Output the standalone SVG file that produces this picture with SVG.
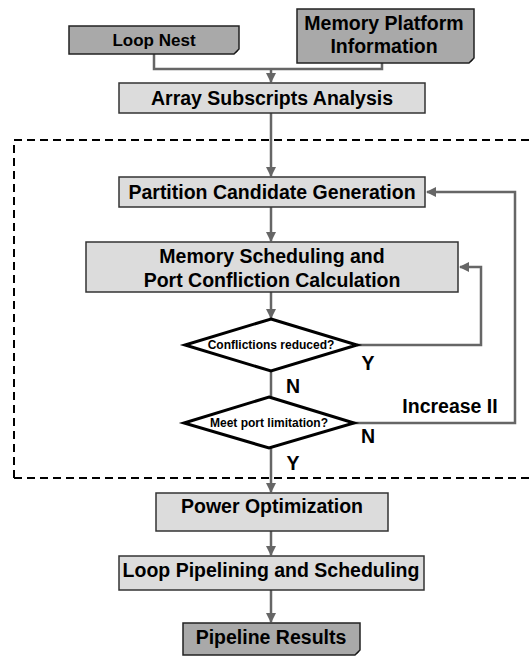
<svg xmlns="http://www.w3.org/2000/svg" width="531" height="656" viewBox="0 0 531 656">
<defs>
<style>
.t{font-family:"Liberation Sans",Arial,sans-serif;font-weight:bold;fill:#000;text-anchor:middle;dominant-baseline:central}
.lt{fill:#dcdcdc;stroke:#333;stroke-width:1.5}
.dk{fill:#a9a9a9;stroke:#222;stroke-width:1.5}
.dm{fill:#fff;stroke:#000;stroke-width:3}
.c{fill:none;stroke:#666;stroke-width:2.5}
</style>
<marker id="ah" viewBox="0 0 10 10" refX="9" refY="5" markerWidth="4" markerHeight="4" orient="auto" markerUnits="strokeWidth">
<path d="M0,0 L10,5 L0,10 z" fill="#666"/>
</marker>
</defs>
<rect width="531" height="656" fill="#fff"/>
<path d="M14,478 V140 H531 M14,478 H531" fill="none" stroke="#000" stroke-width="2" stroke-dasharray="8,5"/>
<g id="connectors">
<path class="c" d="M154,54 V69 H382 V63"/>
<path class="c" d="M271,69 V82" marker-end="url(#ah)"/>
<path class="c" d="M271,113 V176" marker-end="url(#ah)"/>
<path class="c" d="M271,207 V241" marker-end="url(#ah)"/>
<path class="c" d="M271,292 V318" marker-end="url(#ah)"/>
<path class="c" d="M271,371 V397"/>
<path class="c" d="M271,448 V492" marker-end="url(#ah)"/>
<path class="c" d="M271,531 V555" marker-end="url(#ah)"/>
<path class="c" d="M271,590 V622" marker-end="url(#ah)"/>
<path class="c" d="M357,345 H481 V267 H460" marker-end="url(#ah)"/>
<path class="c" d="M353,423 H515 V192 H427" marker-end="url(#ah)"/>
</g>
<g id="loop-nest">
<path class="dk" d="M69,26 H239 V49 L234,54 H69 Z"/>
<path d="M239,49 L234,54 L237,52 Z" fill="#000"/>
<text class="t" x="154" y="40" font-size="17">Loop Nest</text>
</g>
<g id="memory-platform">
<path class="dk" d="M297,9 H474 V58 L469,63 H297 Z"/>
<path d="M474,58 L469,63 L472,61 Z" fill="#000"/>
<text class="t" x="384" y="23" font-size="19.5">Memory Platform</text>
<text class="t" x="384" y="46" font-size="19.5">Information</text>
</g>
<g id="array-subscripts">
<rect class="lt" x="119" y="83" width="306" height="30"/>
<text class="t" x="272" y="98" font-size="19.5">Array Subscripts Analysis</text>
</g>
<g id="partition">
<rect class="lt" x="119" y="177" width="306" height="30"/>
<text class="t" x="272" y="192" font-size="19.5">Partition Candidate Generation</text>
</g>
<g id="memory-scheduling">
<rect class="lt" x="86" y="242" width="372" height="50"/>
<text class="t" x="272" y="256" font-size="19.5">Memory Scheduling and</text>
<text class="t" x="272" y="280" font-size="19.5">Port Confliction Calculation</text>
</g>
<g id="conflictions">
<path class="dm" d="M271,319 L357,345 L271,371 L185,345 Z"/>
<text class="t" x="271" y="345" font-size="12">Conflictions reduced?</text>
</g>
<g id="port-limit">
<path class="dm" d="M269,397 L354,423 L269,448 L184,423 Z"/>
<text class="t" x="269" y="423" font-size="12">Meet port limitation?</text>
</g>
<g id="labels">
<text class="t" x="368" y="363" font-size="19.5">Y</text>
<text class="t" x="293" y="386" font-size="19.5">N</text>
<text class="t" x="450" y="406" font-size="19.5">Increase II</text>
<text class="t" x="368" y="436" font-size="19.5">N</text>
<text class="t" x="293" y="463" font-size="19.5">Y</text>
</g>
<g id="power">
<rect class="lt" x="156" y="493" width="232" height="38"/>
<text class="t" x="272" y="506" font-size="19.5">Power Optimization</text>
</g>
<g id="loop-pipelining">
<rect class="lt" x="119" y="556" width="305" height="34"/>
<text class="t" x="271" y="570" font-size="19.5">Loop Pipelining and Scheduling</text>
</g>
<g id="pipeline-results">
<path class="dk" d="M183,623 H360 V650 L355,655 H183 Z"/>
<path d="M360,650 L355,655 L358,653 Z" fill="#000"/>
<text class="t" x="271" y="637" font-size="19.5">Pipeline Results</text>
</g>
</svg>
